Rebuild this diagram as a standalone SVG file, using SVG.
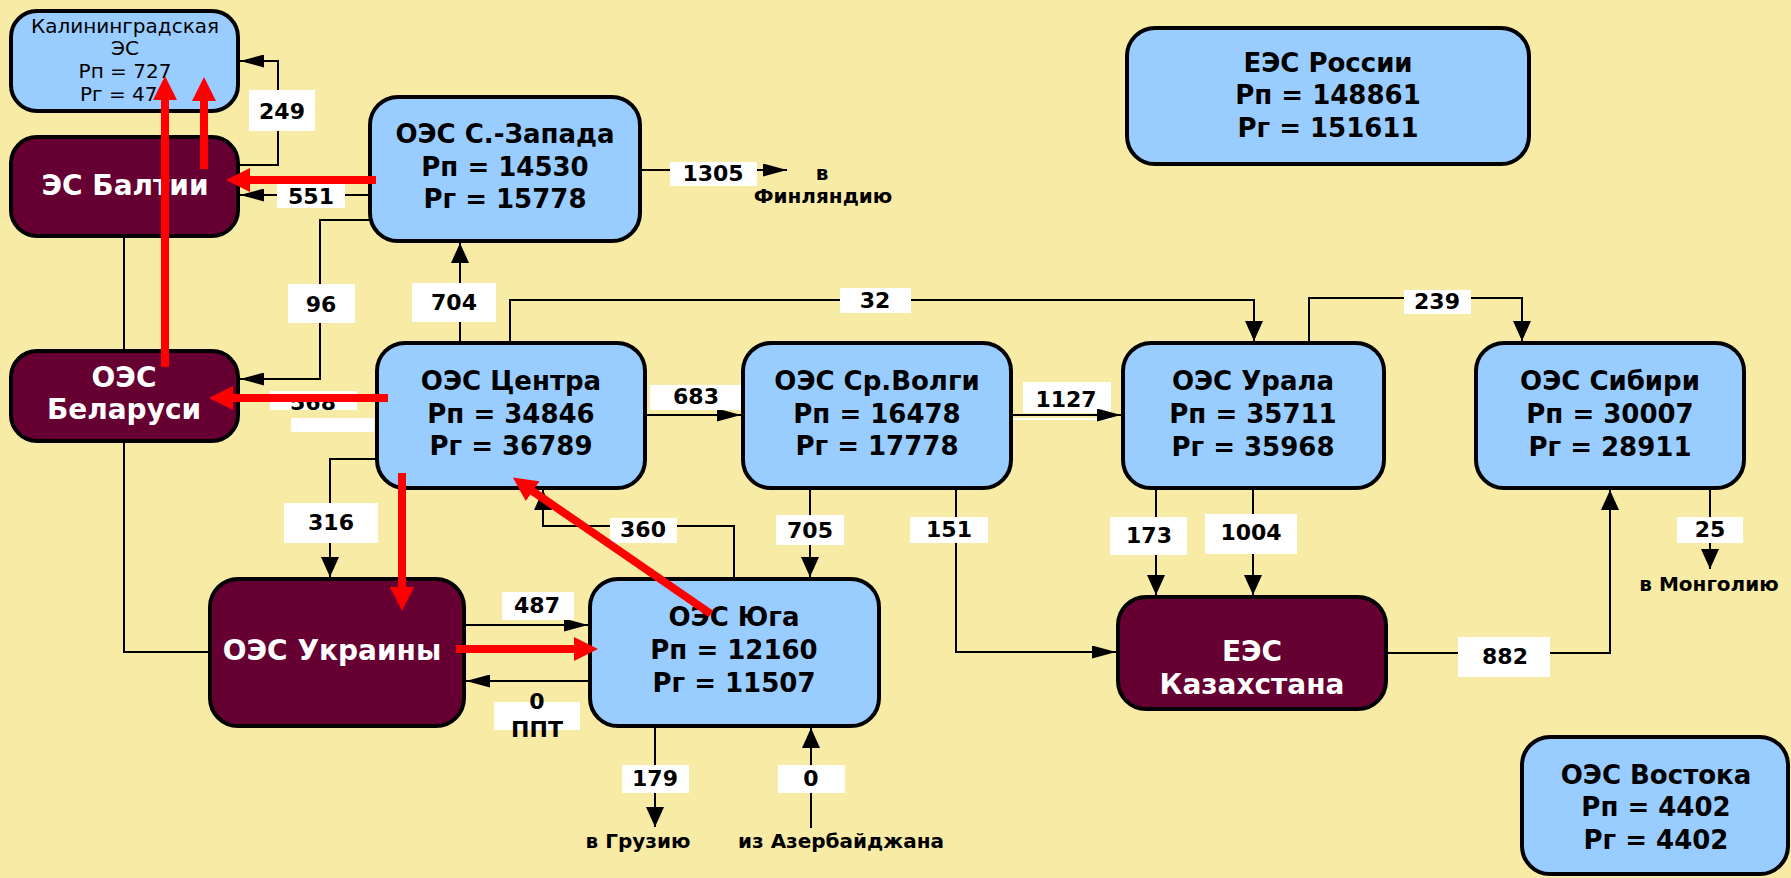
<svg xmlns="http://www.w3.org/2000/svg" width="1791" height="878" viewBox="0 0 1791 878">
<style>
.bg{fill:#F8EBA6}
.nb{fill:#99CCFF;stroke:#000;stroke-width:4}
.nm{fill:#660033;stroke:#000;stroke-width:4}
.t{font-family:"DejaVu Sans","Liberation Sans",sans-serif;font-weight:bold;font-size:26px;text-anchor:middle;fill:#000}
.tw{font-family:"DejaVu Sans","Liberation Sans",sans-serif;font-weight:bold;font-size:28px;text-anchor:middle;fill:#fff}
.tk{font-family:"DejaVu Sans","Liberation Sans",sans-serif;font-size:20px;fill:#000}
.ln{fill:none;stroke:#000;stroke-width:2}
.lr{fill:#fff}
.lt{font-family:"DejaVu Sans","Liberation Sans",sans-serif;font-weight:bold;font-size:22px;text-anchor:middle;fill:#000}
.et{font-family:"DejaVu Sans","Liberation Sans",sans-serif;font-weight:bold;font-size:20px;text-anchor:middle;fill:#000}
.red{fill:none;stroke:#FF0000;stroke-width:8}
</style>
<defs>
<marker id="ah" markerUnits="userSpaceOnUse" markerWidth="24" markerHeight="13" refX="24" refY="6.5" orient="auto"><path d="M0,0 L24,6.5 L0,13 z" fill="#000"/></marker>
<marker id="av" markerUnits="userSpaceOnUse" markerWidth="20" markerHeight="18" refX="20" refY="9" orient="auto"><path d="M0,0 L20,9 L0,18 z" fill="#000"/></marker>
<marker id="ar" markerUnits="userSpaceOnUse" markerWidth="24" markerHeight="24" refX="1" refY="12" orient="auto"><path d="M0,0 L24,12 L0,24 z" fill="#FF0000"/></marker>
</defs>
<rect class="bg" x="0" y="0" width="1791" height="878"/>

<g id="connectors">
<path class="ln" d="M238,165 H278 V61 H240" marker-end="url(#ah)"/>
<path class="ln" d="M370,195 H240" marker-end="url(#ah)"/>
<path class="ln" d="M370,220 H320 V379 H240" marker-end="url(#ah)"/>
<path class="ln" d="M460,343 V243" marker-end="url(#av)"/>
<path class="ln" d="M510,343 V300 H1254 V341" marker-end="url(#av)"/>
<path class="ln" d="M1309,343 V298 H1522 V341" marker-end="url(#av)"/>
<path class="ln" d="M645,415 H741" marker-end="url(#ah)"/>
<path class="ln" d="M810,488 V577" marker-end="url(#av)"/>
<path class="ln" d="M956,488 V652 H1116" marker-end="url(#ah)"/>
<path class="ln" d="M1156,488 V595" marker-end="url(#av)"/>
<path class="ln" d="M1253,488 V595" marker-end="url(#av)"/>
<path class="ln" d="M1386,653 H1610 V490" marker-end="url(#av)"/>
<path class="ln" d="M1710,488 V569" marker-end="url(#av)"/>
<path class="ln" d="M640,170 H787" marker-end="url(#ah)"/>
<path class="ln" d="M377,459 H330 V577" marker-end="url(#av)"/>
<path class="ln" d="M734,579 V526 H543 V490" marker-end="url(#av)"/>
<path class="ln" d="M464,625 H588" marker-end="url(#ah)"/>
<path class="ln" d="M590,681 H466" marker-end="url(#ah)"/>
<path class="ln" d="M655,726 V827" marker-end="url(#av)"/>
<path class="ln" d="M811,828 V728" marker-end="url(#av)"/>
<path class="ln" d="M124,236 V351 M124,441 V652 H210"/>
<path d="M1481,362 H1545 V347" fill="none" stroke="#000" stroke-width="1.5" stroke-dasharray="2,2"/>

<rect class="lr" x="249" y="90" width="66" height="41"/><text class="lt" x="282" y="119">249</text>
<rect class="lr" x="277" y="183" width="68" height="25"/><text class="lt" x="311" y="204">551</text>
<rect class="lr" x="288" y="284" width="67" height="39"/><text class="lt" x="321" y="312">96</text>
<rect class="lr" x="412" y="283" width="84" height="39"/><text class="lt" x="454" y="310">704</text>
<rect class="lr" x="840" y="288" width="71" height="25"/><text class="lt" x="875" y="308">32</text>
<rect class="lr" x="1404" y="290" width="67" height="24"/><text class="lt" x="1437" y="309">239</text>
<rect class="lr" x="650" y="385" width="91" height="25"/><text class="lt" x="696" y="404">683</text>
<rect class="lr" x="1023" y="382" width="88" height="31"/><rect class="lr" x="1011" y="418" width="100" height="2"/><text class="lt" x="1066" y="407">1127</text>
<path class="ln" d="M1011,415 H1121" marker-end="url(#ah)"/>
<rect class="lr" x="776" y="515" width="68" height="30"/><text class="lt" x="810" y="538">705</text>
<rect class="lr" x="910" y="517" width="78" height="26"/><text class="lt" x="949" y="537">151</text>
<rect class="lr" x="1110" y="517" width="77" height="38"/><text class="lt" x="1149" y="543">173</text>
<rect class="lr" x="1205" y="514" width="92" height="40"/><text class="lt" x="1251" y="540">1004</text>
<rect class="lr" x="1458" y="637" width="92" height="40"/><text class="lt" x="1505" y="664">882</text>
<rect class="lr" x="1677" y="517" width="66" height="26"/><text class="lt" x="1710" y="537">25</text>
<text class="et" x="1709" y="591">в Монголию</text>
<rect class="lr" x="670" y="162" width="87" height="24"/><text class="lt" x="713" y="181">1305</text>
<text class="et" x="822" y="180">в</text>
<text class="et" x="823" y="203">Финляндию</text>
<rect class="lr" x="270" y="391" width="87" height="19"/><rect class="lr" x="291" y="418" width="83" height="14"/><text class="lt" x="313" y="410">568</text>
<rect class="lr" x="284" y="503" width="94" height="40"/><text class="lt" x="331" y="530">316</text>
<rect class="lr" x="610" y="518" width="67" height="25"/><text class="lt" x="643" y="537">360</text>
<rect class="lr" x="502" y="592" width="72" height="28"/><text class="lt" x="537" y="613">487</text>
<rect class="lr" x="494" y="702" width="86" height="28"/><text class="lt" x="537" y="709">0</text><text class="lt" x="537" y="737">ППТ</text>
<rect class="lr" x="622" y="765" width="67" height="28"/><text class="lt" x="655" y="786">179</text>
<text class="et" x="638" y="848">в Грузию</text>
<rect class="lr" x="778" y="765" width="67" height="28"/><text class="lt" x="811" y="786">0</text>
<text class="et" x="841" y="848">из Азербайджана</text>
</g>

<g id="kaliningrad">
<rect class="nb" x="11" y="11" width="227" height="100" rx="26"/>
<text class="tk" x="125" y="33" text-anchor="middle">Калининградская</text>
<text class="tk" x="125" y="55" text-anchor="middle">ЭС</text>
<text class="tk" x="125" y="78" text-anchor="middle">Рп = 727</text>
<text class="tk" x="80" y="101">Рг = 47</text>
</g>
<g id="baltia">
<rect class="nm" x="11" y="137" width="227" height="99" rx="26"/>
<text class="tw" x="125" y="195">ЭС Балтии</text>
</g>
<g id="szapad">
<rect class="nb" x="370" y="97" width="270" height="144" rx="28"/>
<text class="t" x="505" y="143">ОЭС С.-Запада</text>
<text class="t" x="505" y="176">Рп = 14530</text>
<text class="t" x="505" y="208">Рг = 15778</text>
</g>
<g id="russia">
<rect class="nb" x="1127" y="28" width="402" height="136" rx="28"/>
<text class="t" x="1328" y="72">ЕЭС России</text>
<text class="t" x="1328" y="104">Рп = 148861</text>
<text class="t" x="1328" y="137">Рг = 151611</text>
</g>
<g id="belarus">
<rect class="nm" x="11" y="351" width="227" height="90" rx="26"/>
<text class="tw" x="124" y="387">ОЭС</text>
<text class="tw" x="124" y="419">Беларуси</text>
</g>
<g id="centr">
<rect class="nb" x="377" y="343" width="268" height="145" rx="28"/>
<text class="t" x="511" y="390">ОЭС Центра</text>
<text class="t" x="511" y="423">Рп = 34846</text>
<text class="t" x="511" y="455">Рг = 36789</text>
</g>
<g id="volga">
<rect class="nb" x="743" y="343" width="268" height="145" rx="28"/>
<text class="t" x="877" y="390">ОЭС Ср.Волги</text>
<text class="t" x="877" y="423">Рп = 16478</text>
<text class="t" x="877" y="455">Рг = 17778</text>
</g>
<g id="ural">
<rect class="nb" x="1123" y="343" width="261" height="145" rx="28"/>
<text class="t" x="1253" y="390">ОЭС Урала</text>
<text class="t" x="1253" y="423">Рп = 35711</text>
<text class="t" x="1253" y="456">Рг = 35968</text>
</g>
<g id="sibir">
<rect class="nb" x="1476" y="343" width="268" height="145" rx="28"/>
<text class="t" x="1610" y="390">ОЭС Сибири</text>
<text class="t" x="1610" y="423">Рп = 30007</text>
<text class="t" x="1610" y="456">Рг = 28911</text>
</g>
<g id="kazakhstan">
<rect class="nm" x="1118" y="597" width="268" height="112" rx="28"/>
<text class="tw" x="1252" y="661">ЕЭС</text>
<text class="tw" x="1252" y="694">Казахстана</text>
</g>
<g id="vostok">
<rect class="nb" x="1522" y="737" width="266" height="137" rx="28"/>
<text class="t" x="1656" y="784">ОЭС Востока</text>
<text class="t" x="1656" y="816">Рп = 4402</text>
<text class="t" x="1656" y="849">Рг = 4402</text>
</g>
<g id="ukraina">
<rect class="nm" x="210" y="579" width="254" height="147" rx="28"/>
<text class="tw" x="332" y="660">ОЭС Украины</text>
</g>
<g id="yug">
<rect class="nb" x="590" y="579" width="289" height="147" rx="28"/>
<text class="t" x="734" y="626">ОЭС Юга</text>
<text class="t" x="734" y="659">Рп = 12160</text>
<text class="t" x="734" y="692">Рг = 11507</text>
</g>

<g id="flow-arrows">
<path class="red" d="M165,367 V99" marker-end="url(#ar)"/>
<path class="red" d="M204,169 V100" marker-end="url(#ar)"/>
<path class="red" d="M376,180 H249" marker-end="url(#ar)"/>
<path class="red" d="M388,398 H232" marker-end="url(#ar)"/>
<path class="red" d="M402,473 V588" marker-end="url(#ar)"/>
<path class="red" d="M711,614 L531.8,490.6" marker-end="url(#ar)"/>
<path class="red" d="M456,649 H575" marker-end="url(#ar)"/>
</g>
</svg>
